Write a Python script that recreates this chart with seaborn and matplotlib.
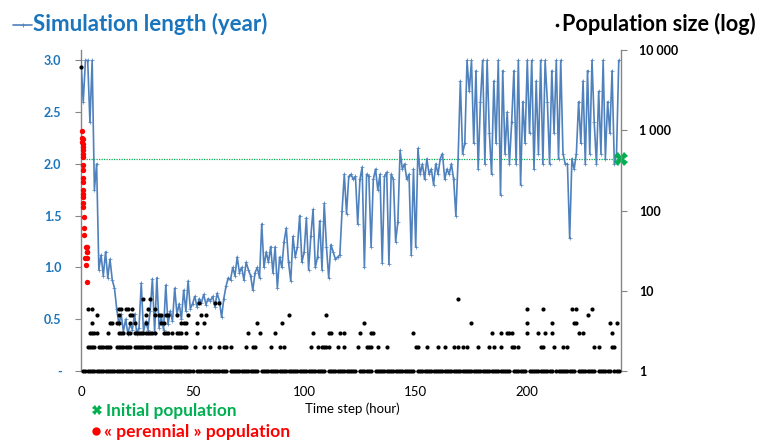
import matplotlib
matplotlib.use("Agg")
import matplotlib.pyplot as plt
from matplotlib.lines import Line2D
from matplotlib.ticker import FixedLocator, MultipleLocator, NullLocator
import seaborn as sns
import pandas as pd

# ---------------- data ----------------
hours = list(range(0, 242))
sim_length = [
    3.0, 2.6, 3.0, 3.0, 2.4, 3.0, 1.75, 2.0, 0.98, 1.12,
    0.92, 1.15, 0.9, 1.08, 0.88, 0.8, 0.6, 0.45, 0.55, 0.38,
    0.5, 0.36, 0.45, 0.4, 0.55, 0.36, 0.42, 0.85, 0.38, 0.48,
    0.4, 0.58, 0.89, 0.37, 0.9, 0.42, 0.52, 0.4, 0.83, 0.45,
    0.58, 0.48, 0.8, 0.55, 0.65, 0.5, 0.78, 0.58, 0.87, 0.6,
    0.65, 0.72, 0.62, 0.7, 0.66, 0.74, 0.64, 0.7, 0.68, 0.72,
    0.62, 0.75, 0.68, 0.52, 0.7, 0.82, 0.9, 0.88, 1.0, 0.92,
    1.1, 0.95, 1.0, 0.88, 1.05, 0.98, 0.92, 0.78, 0.95, 1.0,
    0.9, 1.42, 1.0, 1.15, 1.05, 1.2, 0.95, 1.2, 0.8, 1.1,
    1.0, 1.25, 1.38, 1.05, 0.87, 1.3, 1.1, 1.2, 1.5, 1.05,
    1.15, 1.48, 0.98, 1.3, 1.56, 1.0, 1.1, 1.45, 0.98, 1.62,
    1.2, 0.9, 1.22, 1.15, 1.08, 1.1, 1.12, 1.55, 1.9, 1.52,
    1.88, 1.9, 1.85, 1.88, 1.42, 1.85, 1.97, 1.0, 1.9, 1.88,
    1.2, 1.85, 1.95, 1.75, 1.9, 1.04, 1.88, 1.92, 1.03, 1.9,
    1.85, 1.25, 1.44, 2.13, 1.95, 2.0, 1.85, 1.9, 1.12, 1.95,
    1.2, 2.15, 1.9, 2.0, 1.85, 2.05, 1.9, 1.95, 1.8, 2.0,
    1.9, 2.05, 2.1, 1.85, 1.95, 1.9, 2.0, 1.85, 1.5, 2.05,
    2.8, 2.1, 2.2, 3.0, 2.7, 3.0, 2.2, 2.9, 1.95, 2.6,
    3.0, 2.0, 3.0, 2.3, 1.9, 2.8, 2.2, 3.0, 1.7, 2.9,
    2.1, 2.5, 2.0, 2.4, 2.9, 2.0, 3.0, 1.8, 2.6, 2.2,
    3.0, 2.3, 3.0, 1.95, 2.8, 2.1, 3.0, 2.0, 3.0, 2.6,
    2.0, 2.9, 2.3, 3.0, 2.05, 3.0, 2.1, 2.0, 2.0, 1.28,
    2.05, 1.95, 2.1, 2.6, 2.2, 2.8, 2.0, 2.9, 2.1, 3.0,
    2.4, 2.0, 2.7, 2.1, 3.0, 2.05, 2.6, 2.3, 2.9, 2.0,
    2.1, 3.0,
]

perennial_x = [0.6, 0.5, 0.8, 0.6, 0.9, 0.7, 0.9, 0.7, 0.9, 0.9, 0.7, 0.9, 0.7,
               1.0, 0.9, 1.0, 0.9, 1.0, 1.2, 1.5, 1.2, 2.3, 2.9, 2.6, 2.0, 2.6, 2.9, 2.2, 2.5]
perennial_y = [2.32, 2.25, 2.24, 2.21, 2.19, 2.16, 2.13, 2.10, 2.07, 1.99, 1.94, 1.86, 1.83,
               1.75, 1.71, 1.68, 1.62, 1.58, 1.49, 1.38, 1.31, 1.20, 1.20, 1.15, 1.09, 1.15,
               1.09, 1.02, 0.86]

initial_pop_level = 2.05

# population sizes (right, log axis): hours at which each size appears
pop_start_hour = [0]
pop_start_size = [6100]
pop1_gap_hours = [51, 66, 80, 110, 124, 131, 150, 193, 200, 212, 222, 231, 238]
pop2_hours = [3, 4, 5, 6, 8, 9, 10, 11, 12, 13, 16, 17, 18, 19, 20, 21, 22, 24, 25, 26,
              27, 28, 29, 30, 31, 33, 34, 35, 36, 37, 38, 39, 40, 42, 43, 44, 45, 46, 47,
              51, 55, 58, 62, 64, 65, 67, 74, 77, 78, 85, 89, 91, 103, 106, 108, 109, 110,
              111, 115, 118, 124, 128, 129, 130, 133, 137, 150, 151, 155, 160, 163, 167,
              169, 171, 173, 178, 183, 185, 188, 193, 194, 196, 206, 207, 212, 216, 218,
              230, 232, 238, 239]
pop3_hours = [4, 5, 6, 7, 12, 17, 18, 19, 21, 22, 24, 25, 26, 27, 28, 29, 30, 31, 32, 33,
              37, 38, 39, 41, 43, 44, 45, 47, 52, 75, 80, 87, 104, 111, 112, 116, 118, 125,
              130, 131, 149, 184, 188, 191, 192, 193, 200, 205, 208, 211, 223, 225, 238]
pop4_hours = [5, 13, 14, 16, 17, 22, 24, 29, 36, 37, 45, 46, 47, 52, 55, 79, 90, 127, 175,
              200, 211, 221, 222, 237, 240]
pop5_hours = [7, 17, 22, 23, 29, 33, 35, 36, 38, 39, 43, 48, 54, 56, 93, 110, 227]
pop6_hours = [3, 5, 17, 18, 20, 21, 23, 30, 33, 200, 207, 220, 222, 229]
pop7_hours = [53, 60, 62]
pop8_hours = [28, 31, 169]

left_ticks = [0, 0.5, 1.0, 1.5, 2.0, 2.5, 3.0]
left_tick_labels = ["-", "0.5", "1.0", "1.5", "2.0", "2.5", "3.0"]
right_ticks = [1, 10, 100, 1000, 10000]
right_tick_labels = ["1", "10", "100", "1 000", "10 000"]
x_ticks = [0, 50, 100, 150, 200]

# ---------------- build point table ----------------
pop1_hours = [h for h in hours[1:] if h not in pop1_gap_hours]
pop_x, pop_y = list(pop_start_hour), list(pop_start_size)
for size, hs in [(1, pop1_hours), (2, pop2_hours), (3, pop3_hours), (4, pop4_hours),
                 (5, pop5_hours), (6, pop6_hours), (7, pop7_hours), (8, pop8_hours)]:
    pop_x += hs
    pop_y += [size] * len(hs)
pop_df = pd.DataFrame({"hour": pop_x, "size": pop_y})
line_df = pd.DataFrame({"hour": hours, "years": sim_length})
per_df = pd.DataFrame({"hour": perennial_x, "years": perennial_y})

# ---------------- style ----------------
sns.set_style("white")
FONT = ["Lato", "DejaVu Sans"]
plt.rcParams["font.family"] = FONT

BLUE_TXT = "#1B75BC"
LINE_BLUE = "#4F81BD"
GREEN = "#00B050"
RED = "#FF0000"
GREY = "#868686"

fig = plt.figure(figsize=(7.65, 4.41), dpi=100)
ax = fig.add_axes([81 / 765, 1 - 371 / 441, 540 / 765, 321 / 441])
XMAX = 242

sns.lineplot(data=line_df, x="hour", y="years", ax=ax, color=LINE_BLUE, linewidth=1.2,
             marker="+", markersize=2.5, markeredgewidth=0.5, markeredgecolor=LINE_BLUE,
             zorder=3)
ax.axhline(initial_pop_level, color=GREEN, linestyle=(0, (1, 1)), linewidth=0.9, zorder=2)
sns.scatterplot(data=per_df, x="hour", y="years", ax=ax, color=RED, s=15, linewidth=0,
                zorder=5, clip_on=False)
ax.plot([XMAX], [initial_pop_level], marker="X", markersize=10, color=GREEN,
        markeredgewidth=0, clip_on=False, zorder=6)

ax.set_xlim(0, XMAX)
ax.set_ylim(0, 3.1)
ax.set_xlabel("")
ax.set_ylabel("")

ax2 = ax.twinx()
ax2.set_yscale("log")
sns.scatterplot(data=pop_df, x="hour", y="size", ax=ax2, color="black", s=9, linewidth=0,
                clip_on=False, zorder=4)
ax2.set_ylim(1, 10000)
ax2.set_xlim(0, XMAX)
ax2.set_ylabel("")

# spines
for a in (ax, ax2):
    a.spines["top"].set_visible(False)
    for s in ("left", "right", "bottom"):
        a.spines[s].set_color(GREY)
        a.spines[s].set_linewidth(1.0)
ax.spines["right"].set_visible(False)
ax2.spines["left"].set_visible(False)
ax2.spines["bottom"].set_visible(False)

# ticks
ax.yaxis.set_major_locator(FixedLocator(left_ticks))
ax.set_yticklabels(left_tick_labels)
ax.tick_params(axis="y", which="major", direction="out", length=4, width=0.8, color=GREY,
               pad=10, labelsize=9, labelcolor=BLUE_TXT)
for t in ax.get_yticklabels():
    t.set_fontweight("bold")

ax.xaxis.set_major_locator(FixedLocator(x_ticks))
ax.xaxis.set_minor_locator(MultipleLocator(10))
ax.set_xticklabels([str(v) for v in x_ticks])
ax.tick_params(axis="x", which="both", direction="out", length=4, width=0.8, color=GREY,
               pad=7, labelsize=9.5, labelcolor="black")
ax.tick_params(axis="x", which="minor", length=3)

ax2.yaxis.set_major_locator(FixedLocator(right_ticks))
ax2.yaxis.set_minor_locator(NullLocator())
ax2.set_yticklabels(right_tick_labels)
ax2.tick_params(axis="y", which="major", direction="out", length=4, width=0.8, color=GREY,
                pad=9, labelsize=9, labelcolor="black")
for t in ax2.get_yticklabels():
    t.set_fontweight("bold")

# ---------------- header / legend texts ----------------
def fx(px):
    return px / 765

def fy(py):
    return 1 - py / 441

fig.add_artist(Line2D([fx(13), fx(32)], [fy(25), fy(25)], color=LINE_BLUE, linewidth=1.2,
                      transform=fig.transFigure))
fig.add_artist(Line2D([fx(22.5)], [fy(25)], marker="+", markersize=3, color=LINE_BLUE,
                      markeredgewidth=0.6, transform=fig.transFigure))
fig.text(fx(33), fy(31), "Simulation length (year)", color=BLUE_TXT, fontsize=16,
         fontweight="bold", ha="left", va="baseline")

fig.add_artist(Line2D([fx(557)], [fy(25)], marker="o", markersize=2.6, color="black",
                      markeredgewidth=0, transform=fig.transFigure))
fig.text(fx(562), fy(31), "Population size (log)", color="black", fontsize=15.6,
         fontweight="bold", ha="left", va="baseline")

fig.add_artist(Line2D([fx(97)], [fy(410)], marker="X", markersize=6.5, color=GREEN,
                      markeredgewidth=0, transform=fig.transFigure))
fig.text(fx(106), fy(416), "Initial population", color=GREEN, fontsize=12.4,
         fontweight="bold", ha="left", va="baseline")

fig.add_artist(Line2D([fx(96)], [fy(431)], marker="o", markersize=6, color=RED,
                      markeredgewidth=0, transform=fig.transFigure))
fig.text(fx(104), fy(437), "« perennial » population", color=RED, fontsize=12.6,
         fontweight="bold", ha="left", va="baseline")

fig.text(fx(305), fy(413), "Time step (hour)", color="black", fontsize=9.5,
         ha="left", va="baseline")

fig.savefig("out.png", dpi=100)
